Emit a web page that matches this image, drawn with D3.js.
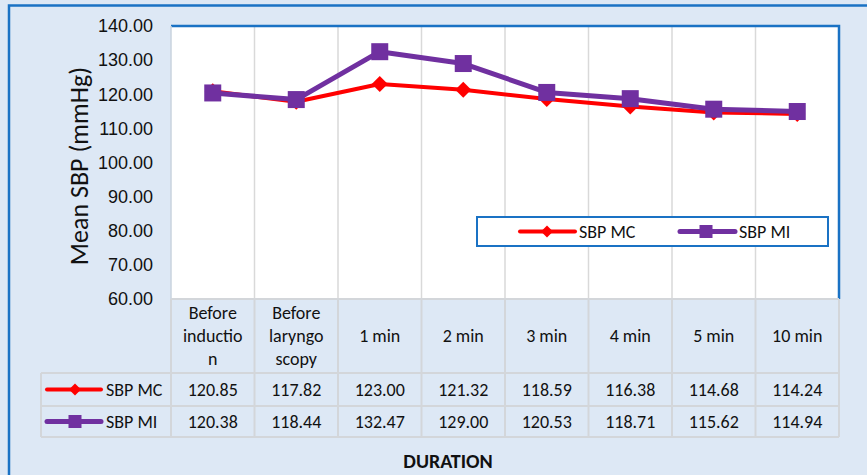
<!DOCTYPE html>
<html>
<head>
<meta charset="utf-8">
<script src="https://cdn.jsdelivr.net/npm/d3@7"></script>
<style>
  body { margin: 0; background: #dde8f5; }
  svg { display: block; font-family: Calibri, Carlito, Lato, "Open Sans", sans-serif; }
</style>
</head>
<body>
<svg id="chart" width="867" height="475"></svg>
<script>
// Dados do gráfico
const categories = [["Before", "inductio", "n"], ["Before", "laryngo", "scopy"], ["1 min"], ["2 min"], ["3 min"], ["4 min"], ["5 min"], ["10 min"]];
const sbpMC = [120.85, 117.82, 123.00, 121.32, 118.59, 116.38, 114.68, 114.24];
const sbpMI = [120.38, 118.44, 132.47, 129.00, 120.53, 118.71, 115.62, 114.94];
const yTicks = [60, 70, 80, 90, 100, 110, 120, 130, 140];

const series = [
    { name: "SBP MC", values: sbpMC, color: "#ff0000", width: 4, marker: "diamond" },
    { name: "SBP MI", values: sbpMI, color: "#7030a0", width: 5, marker: "square" }
];

const svg = d3.select("#chart");
const pLeft = 171, pRight = 839, pTop = 26, pBottom = 299;
const rowH = [74, 33, 31];
const tableLeft = 41;
const fs = 18;

// Fundo e moldura externa
svg.append("rect").attr("x", 0).attr("y", 0).attr("width", 867).attr("height", 475).attr("fill", "#dde8f5");
svg.append("path").attr("d", "M9,480 V5.5 H870")
    .attr("fill", "none").attr("stroke", "#1a72c4").attr("stroke-width", 2.5);

const x = d3.scaleBand().domain(d3.range(categories.length)).range([pLeft, pRight]);
const y = d3.scaleLinear().domain([60, 140]).range([pBottom, pTop]);

// Área do gráfico
svg.append("rect").attr("x", pLeft).attr("y", pTop).attr("width", pRight - pLeft).attr("height", pBottom - pTop).attr("fill", "#fff");

const g = svg.append("g");
g.selectAll(".vgrid").data(d3.range(1, categories.length)).enter().append("line")
    .attr("x1", d => x(d)).attr("x2", d => x(d))
    .attr("y1", pTop).attr("y2", pBottom)
    .attr("stroke", "#d9d9d9").attr("stroke-width", 1.5);

// borda superior e direita em azul
svg.append("path").attr("d", `M${pLeft},${pTop} H${pRight} V${pBottom}`)
    .attr("fill", "none").attr("stroke", "#1a72c4").attr("stroke-width", 2.5);
svg.append("line").attr("x1", pLeft).attr("x2", pLeft).attr("y1", pTop).attr("y2", pBottom)
    .attr("stroke", "#c9d3de").attr("stroke-width", 1.5);

// Eixo Y
const yAxis = d3.axisLeft(y).tickValues(yTicks).tickSize(0).tickPadding(18).tickFormat(d3.format(".2f"));
const ya = svg.append("g").attr("transform", `translate(${pLeft},0)`).call(yAxis);
ya.select(".domain").remove();
ya.selectAll("text").attr("font-size", fs).attr("fill", "#111").style("font-family", "inherit");

svg.append("text")
    .attr("transform", "translate(88,166) rotate(-90)")
    .attr("text-anchor", "middle")
    .attr("font-size", 26)
    .attr("fill", "#111")
    .text("Mean SBP (mmHg)");

// Linhas
const line = d3.line().x((d, i) => x(i) + x.bandwidth() / 2).y(d => y(d));

function drawMarker(sel, type, color, size) {
    if (type === "square") {
        sel.append("rect").attr("x", -size / 2).attr("y", -size / 2).attr("width", size).attr("height", size).attr("fill", color);
    } else {
        sel.append("path").attr("d", `M0,${-size / 2} L${size / 2},0 L0,${size / 2} L${-size / 2},0 Z`).attr("fill", color);
    }
}

series.forEach(s => {
    g.append("path").datum(s.values)
        .attr("d", line).attr("fill", "none")
        .attr("stroke", s.color).attr("stroke-width", s.width).attr("stroke-linejoin", "round");
    g.selectAll(null).data(s.values).enter().append("g")
        .attr("transform", (d, i) => `translate(${x(i) + x.bandwidth() / 2},${y(d)})`)
        .each(function () { drawMarker(d3.select(this), s.marker, s.color, s.marker === "square" ? 17 : 16); });
});

// Legenda dentro do gráfico
const leg = svg.append("g");
leg.append("rect").attr("x", 477).attr("y", 217).attr("width", 351).attr("height", 29)
    .attr("fill", "#fff").attr("stroke", "#1a72c4").attr("stroke-width", 2);
const legX = [520, 680];
series.forEach((s, i) => {
    const lg = leg.append("g").attr("transform", `translate(${legX[i]},231.5)`);
    lg.append("line").attr("x1", 0).attr("x2", 55).attr("stroke", s.color).attr("stroke-width", s.width).attr("stroke-linecap", "round");
    drawMarker(lg.append("g").attr("transform", `translate(${s.marker === "square" ? 26 : 27},0)`), s.marker, s.color, s.marker === "square" ? 13 : 12);
    lg.append("text").attr("x", 59).attr("y", 6).attr("font-size", fs).attr("fill", "#111").text(s.name);
});

// Tabela de dados
const tb = svg.append("g");
const r0 = pBottom, r1 = r0 + rowH[0], r2 = r1 + rowH[1], r3 = r2 + rowH[2];
const gridC = "#d3d6da";
[r0, r1, r2, r3].forEach((ry, i) => {
    tb.append("line").attr("x1", i === 0 ? pLeft : tableLeft).attr("x2", pRight).attr("y1", ry).attr("y2", ry)
        .attr("stroke", gridC).attr("stroke-width", 2);
});
d3.range(categories.length + 1).forEach(i => {
    const cx = i < categories.length ? x(i) : pRight;
    tb.append("line").attr("x1", cx).attr("x2", cx).attr("y1", r0).attr("y2", r3)
        .attr("stroke", gridC).attr("stroke-width", 2);
});
tb.append("line").attr("x1", tableLeft).attr("x2", tableLeft).attr("y1", r1).attr("y2", r3)
    .attr("stroke", gridC).attr("stroke-width", 2);

categories.forEach((c, i) => {
    const cx = x(i) + x.bandwidth() / 2;
    const mid = (r0 + r1) / 2;
    const lh = 23;
    c.forEach((t, j) => {
        tb.append("text").attr("x", cx).attr("y", mid + (j - (c.length - 1) / 2) * lh + 6)
            .attr("text-anchor", "middle").attr("font-size", fs).attr("fill", "#111").text(t);
    });
});

const rowsY = [(r1 + r2) / 2, (r2 + r3) / 2];
series.forEach((s, k) => {
    const ky = rowsY[k];
    const lg = tb.append("g").attr("transform", `translate(47,${ky})`);
    lg.append("line").attr("x1", 0).attr("x2", 54).attr("stroke", s.color).attr("stroke-width", s.width).attr("stroke-linecap", "round");
    drawMarker(lg.append("g").attr("transform", "translate(28,0)"), s.marker, s.color, s.marker === "square" ? 13 : 12);
    lg.append("text").attr("x", 59).attr("y", 6).attr("font-size", fs).attr("fill", "#111").text(s.name);
    s.values.forEach((v, i) => {
        tb.append("text").attr("x", x(i) + x.bandwidth() / 2).attr("y", ky + 6)
            .attr("text-anchor", "middle").attr("font-size", fs).attr("fill", "#111").text(v.toFixed(2));
    });
});

svg.append("text").attr("x", 448).attr("y", 468).attr("text-anchor", "middle")
    .attr("font-size", 20).attr("font-weight", "bold").attr("fill", "#111").text("DURATION");
</script>
</body>
</html>
